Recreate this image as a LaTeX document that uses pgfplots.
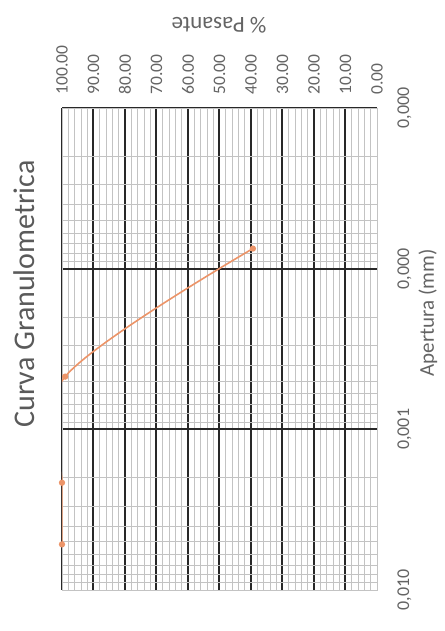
\documentclass[border=0pt]{standalone}
\usepackage{pgfplots}
\pgfplotsset{compat=1.18}
\usepackage{fontspec}
\setmainfont{Carlito}
\definecolor{txt}{RGB}{100,100,100}
\definecolor{serie}{RGB}{236,148,104}
\definecolor{majg}{RGB}{40,40,40}
\definecolor{ming}{RGB}{195,195,195}
\begin{document}
\begin{tikzpicture}
\path[use as bounding box] (0,0) rectangle (445bp,631bp);
\begin{axis}[
  at={(62bp,41bp)}, anchor=south west,
  scale only axis, width=315bp, height=482bp,
  xmin=0, xmax=100, x dir=reverse,
  ymode=log, ymin=1e-5, ymax=1e-2, y dir=reverse,
  xtick={10,20,...,100},
  xticklabels={10.00,20.00,30.00,40.00,50.00,60.00,70.00,80.00,90.00,100.00},
  extra x ticks={0}, extra x tick labels={0.00},
  extra x tick style={grid=none},
  minor xtick={2,4,6,8,12,14,16,18,22,24,26,28,32,34,36,38,42,44,46,48,52,54,56,58,62,64,66,68,72,74,76,78,82,84,86,88,92,94,96,98},
  ytick={1e-5,1e-4,1e-3},
  yticklabels={0{,}000,0{,}000,0{,}001},
  extra y ticks={1e-2}, extra y tick labels={0{,}010},
  extra y tick style={grid=none},
  minor ytick={2e-5,3e-5,4e-5,5e-5,6e-5,7e-5,8e-5,9e-5,2e-4,3e-4,4e-4,5e-4,6e-4,7e-4,8e-4,9e-4,2e-3,3e-3,4e-3,5e-3,6e-3,7e-3,8e-3,9e-3},
  xticklabel pos=upper, yticklabel pos=upper,
  grid=both,
  major grid style={majg, line width=2bp},
  minor grid style={ming, line width=0.7bp},
  major tick length=0pt, minor tick length=0pt,
  axis line style={ming, line width=0.8bp},
  xticklabel style={rotate=90, anchor=west, font=\fontsize{17.5bp}{18bp}\selectfont, text=txt},
  yticklabel style={rotate=90, anchor=north, font=\fontsize{18bp}{19bp}\selectfont, text=txt},
  xticklabel shift=10bp,
  yticklabel shift=17bp,
  clip=true,
]
\addplot[serie, line width=1.6bp, smooth, tension=0.55, mark=*, mark size=2.3bp,
  mark options={fill=serie, draw=serie}]
  coordinates {(39.4,7.5e-5) (99.0,4.7e-4) (100,2.15e-3) (100,5.2e-3)};
\end{axis}
\node[rotate=90, text=txt!90!black, font=\fontsize{30bp}{32bp}\selectfont] at (24bp,337bp) {Curva Granulometrica};
\node[rotate=180, text=txt, font=\fontsize{23bp}{25bp}\selectfont] at (219bp,606bp) {\% Pasante};
\node[rotate=90, text=txt, font=\fontsize{21bp}{23bp}\selectfont] at (428bp,318bp) {Apertura (mm)};
\end{tikzpicture}
\end{document}
